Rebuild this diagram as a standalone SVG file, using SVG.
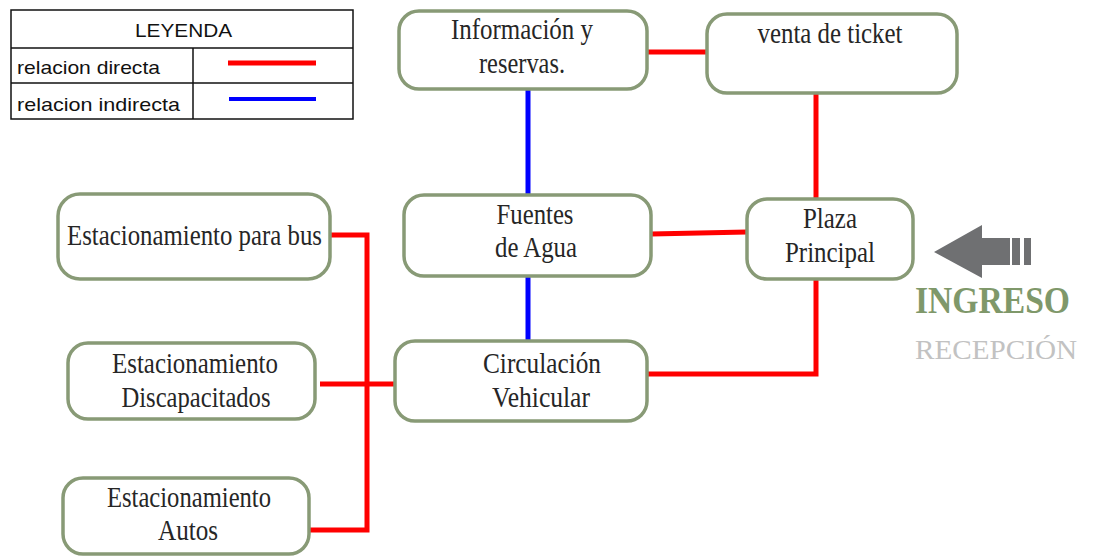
<svg xmlns="http://www.w3.org/2000/svg" width="1093" height="556" viewBox="0 0 1093 556">
<style>
.box{fill:#fff;stroke:#889a76;stroke-width:3.5}
.t{font-family:"Liberation Serif","Times New Roman",serif;font-size:29px;fill:#262626;text-anchor:middle}
.lg{font-family:"Liberation Sans",Arial,sans-serif;font-size:19px;fill:#111}
.red{stroke:#ff0000;stroke-width:5;fill:none}
.blue{stroke:#0000ff;stroke-width:5;fill:none}
.tab{stroke:#111;stroke-width:1.5;fill:none}
</style>
<rect width="1093" height="556" fill="#fff"/>
<g id="legend">
<rect class="tab" x="11" y="10" width="342" height="109"/>
<line class="tab" x1="11" y1="48" x2="353" y2="48"/>
<line class="tab" x1="11" y1="83" x2="353" y2="83"/>
<line class="tab" x1="193" y1="48" x2="193" y2="119"/>
<text class="lg" x="135" y="37" textLength="97" lengthAdjust="spacingAndGlyphs">LEYENDA</text>
<text class="lg" x="17" y="74" textLength="143" lengthAdjust="spacingAndGlyphs">relacion directa</text>
<text class="lg" x="17" y="111" textLength="163" lengthAdjust="spacingAndGlyphs">relacion indirecta</text>
<line x1="228" y1="63" x2="316" y2="63" stroke="#ff0000" stroke-width="5"/>
<line x1="229" y1="99" x2="316" y2="99" stroke="#0000ff" stroke-width="4"/>
</g>
<g id="connectors">
<line class="red" x1="647" y1="52" x2="707" y2="52"/>
<line class="red" x1="816" y1="93" x2="816" y2="199"/>
<line class="red" x1="651" y1="234" x2="747" y2="232"/>
<line class="blue" x1="528" y1="89" x2="528" y2="195"/>
<line class="blue" x1="528" y1="276" x2="528" y2="341"/>
<polyline class="red" points="648,374 816,374 816,279"/>
<polyline class="red" points="330,235 367,235 367,530 309,530"/>
<line class="red" x1="320" y1="384" x2="395" y2="384"/>
</g>
<g id="info">
<rect class="box" x="399" y="11" width="248" height="78" rx="20"/>
<text class="t" x="522" y="39" textLength="142" lengthAdjust="spacingAndGlyphs">Información y</text>
<text class="t" x="522" y="73" textLength="86" lengthAdjust="spacingAndGlyphs">reservas.</text>
</g>
<g id="venta">
<rect class="box" x="707" y="14" width="250" height="79" rx="20"/>
<text class="t" x="830" y="43" textLength="145" lengthAdjust="spacingAndGlyphs">venta de ticket</text>
</g>
<g id="fuentes">
<rect class="box" x="404" y="195" width="247" height="81" rx="20"/>
<text class="t" x="535" y="224" textLength="77" lengthAdjust="spacingAndGlyphs">Fuentes</text>
<text class="t" x="536" y="257" textLength="82" lengthAdjust="spacingAndGlyphs">de Agua</text>
</g>
<g id="plaza">
<rect class="box" x="747" y="199" width="166" height="80" rx="20"/>
<text class="t" x="830" y="228" textLength="54" lengthAdjust="spacingAndGlyphs">Plaza</text>
<text class="t" x="830" y="262" textLength="90" lengthAdjust="spacingAndGlyphs">Principal</text>
</g>
<g id="circulacion">
<rect class="box" x="395" y="341" width="252" height="80" rx="20"/>
<text class="t" x="542" y="373" textLength="118" lengthAdjust="spacingAndGlyphs">Circulación</text>
<text class="t" x="541" y="407" textLength="98" lengthAdjust="spacingAndGlyphs">Vehicular</text>
</g>
<g id="bus">
<rect class="box" x="58" y="194" width="272" height="85" rx="22"/>
<text class="t" x="194.5" y="245" textLength="255" lengthAdjust="spacingAndGlyphs">Estacionamiento para bus</text>
</g>
<g id="discapacitados">
<rect class="box" x="68" y="343" width="247" height="76" rx="20"/>
<text class="t" x="195" y="373" textLength="166" lengthAdjust="spacingAndGlyphs">Estacionamiento</text>
<text class="t" x="196" y="407" textLength="149" lengthAdjust="spacingAndGlyphs">Discapacitados</text>
</g>
<g id="autos">
<rect class="box" x="63" y="478" width="246" height="76" rx="20"/>
<text class="t" x="189" y="507" textLength="164" lengthAdjust="spacingAndGlyphs">Estacionamiento</text>
<text class="t" x="188" y="540" textLength="60" lengthAdjust="spacingAndGlyphs">Autos</text>
</g>
<g id="ingreso">
<polygon points="934,252 982,225 982,238 1010,238 1010,265 982,265 982,278" fill="#6f7072"/>
<rect x="1012" y="238" width="8" height="27" fill="#6f7072"/>
<rect x="1024" y="238" width="7" height="27" fill="#6f7072"/>
<text x="915" y="313" font-family="'Liberation Serif','Times New Roman',serif" font-size="38" font-weight="bold" fill="#7f986a" textLength="155" lengthAdjust="spacingAndGlyphs">INGRESO</text>
<text x="915" y="359" font-family="'Liberation Serif','Times New Roman',serif" font-size="28" fill="#c2c2c2" textLength="162" lengthAdjust="spacingAndGlyphs">RECEPCIÓN</text>
</g>
</svg>
